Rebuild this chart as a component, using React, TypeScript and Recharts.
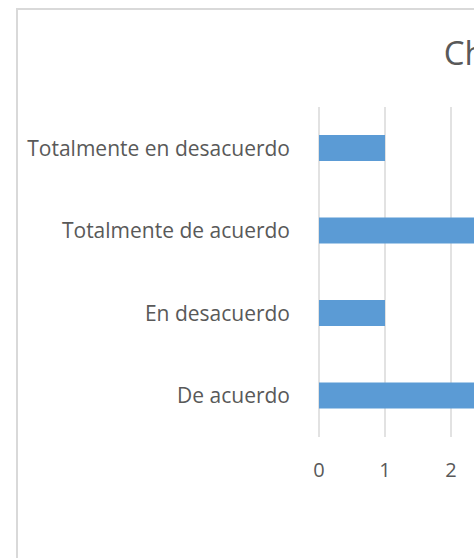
import { BarChart, Bar, XAxis, YAxis, CartesianGrid } from "recharts";

// categories listed top to bottom as they appear on the chart
const categories = [
  "Totalmente en desacuerdo",
  "Totalmente de acuerdo",
  "En desacuerdo",
  "De acuerdo",
];
const counts = [1, 7, 1, 9];
const xTicks = [0, 1, 2, 3, 4, 5, 6, 7, 8, 9, 10];
const title = "Chart Title";

const chartData = categories.map((name, i) => ({ name, value: counts[i] }));

const W = 1014;
const H = 580;
const TEXT = "#595959";
const GRID = "#d9d9d9";
const FONT = "'Open Sans', sans-serif";

export default function App() {
  return (
    <div
      style={{
        position: "fixed",
        left: 0,
        top: 0,
        width: 474,
        height: 558,
        overflow: "hidden",
        background: "#fff",
      }}
    >
      <div
        style={{
          position: "absolute",
          left: 16,
          top: 8,
          width: W,
          height: H,
          border: `2px solid ${GRID}`,
          boxSizing: "border-box",
          fontFamily: FONT,
        }}
      >
        <div
          style={{
            position: "absolute",
            top: 20,
            left: 0,
            width: "100%",
            textAlign: "center",
            fontSize: 33,
            color: TEXT,
          }}
        >
          {title}
        </div>
        <BarChart
          width={W - 4}
          height={H - 4}
          data={chartData}
          layout="vertical"
          margin={{ top: 97, right: 49, left: 0, bottom: 109 }}
          barCategoryGap={0}
        >
          <CartesianGrid horizontal={false} stroke={GRID} strokeWidth={1.5} />
          <XAxis
            type="number"
            domain={[0, 10]}
            ticks={xTicks}
            interval={0}
            height={40}
            axisLine={false}
            tickLine={false}
            tickMargin={20}
            tick={{ fontSize: 20, fill: TEXT, fontFamily: FONT }}
          />
          <YAxis
            type="category"
            dataKey="name"
            width={301}
            axisLine={false}
            tickLine={false}
            tickMargin={23}
            tick={{ fontSize: 21, fill: TEXT, fontFamily: FONT }}
          />
          <Bar
            dataKey="value"
            fill="#5b9bd5"
            barSize={26}
            isAnimationActive={false}
          />
        </BarChart>
      </div>
    </div>
  );
}
